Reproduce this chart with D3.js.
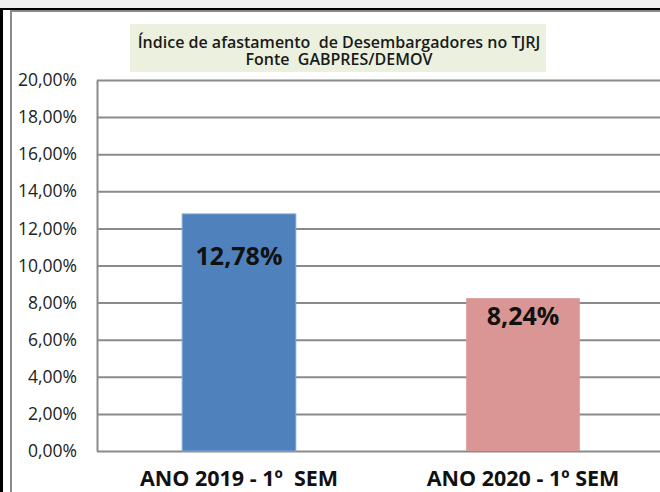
<!DOCTYPE html>
<html>
<head>
<meta charset="utf-8">
<script src="https://cdn.jsdelivr.net/npm/d3@7"></script>
<style>
  html, body { margin: 0; padding: 0; background: #fff; }
  svg { display: block; font-family: "Open Sans", sans-serif; }
</style>
</head>
<body>
<svg id="chart" width="660" height="492"></svg>
<script>
// chart data
const categories = ['ANO 2019 - 1º  SEM', 'ANO 2020 - 1º SEM'];
const values = [0.1278, 0.0824];
const yTicks = [0, 0.02, 0.04, 0.06, 0.08, 0.10, 0.12, 0.14, 0.16, 0.18, 0.20];
const titleLines = ['Índice de afastamento  de Desembargadores no TJRJ', 'Fonte  GABPRES/DEMOV'];
const barColors = ['#4F81BD', '#D99694'];

const W = 660, H = 492;
const svg = d3.select('#chart');

// window chrome around the chart
svg.append('rect').attr('x', 0).attr('y', 0).attr('width', W).attr('height', 8).attr('fill', '#f0f0f0');
svg.append('rect').attr('x', 0).attr('y', 8).attr('width', W).attr('height', 2).attr('fill', '#000');
svg.append('rect').attr('x', 0).attr('y', 8).attr('width', 3).attr('height', H).attr('fill', '#000');
// chart area border
svg.append('path')
    .attr('d', `M11,${H} V11 H${W}`)
    .attr('fill', 'none').attr('stroke', '#8a8a8a').attr('stroke-width', 2);

const locale = d3.formatLocale({ decimal: ',', thousands: '.', grouping: [3], currency: ['R$', ''] });
const pct = locale.format('.2%');

const plotLeft = 97, plotRight = 665;
const x = d3.scaleBand()
    .domain(categories)
    .range([plotLeft, plotRight])
    .paddingInner(0.6)
    .paddingOuter(0.3);
const y = d3.scaleLinear()
    .domain([0, 0.20])
    .range([451, 80]);

// gridlines + y axis
const yAxis = svg.append('g')
    .attr('transform', `translate(${plotLeft},0)`)
    .call(d3.axisLeft(y)
        .tickValues(yTicks)
        .tickFormat(pct)
        .tickSizeInner(-(plotRight - plotLeft))
        .tickSizeOuter(0)
        .tickPadding(20));
yAxis.select('.domain').attr('stroke', '#8a8a8a').attr('stroke-width', 2);
yAxis.selectAll('.tick line').attr('stroke', '#8a8a8a').attr('stroke-width', 2);
yAxis.selectAll('.tick text')
    .attr('fill', '#222')
    .attr('font-size', 17.5)
    .attr('font-family', '"Open Sans", sans-serif');

// bars
svg.append('g').selectAll('rect')
    .data(values)
    .enter()
    .append('rect')
    .attr('x', (d, i) => x(categories[i]))
    .attr('y', d => y(d))
    .attr('width', x.bandwidth())
    .attr('height', d => y(0) - y(d))
    .attr('fill', (d, i) => barColors[i])
    .attr('stroke', (d, i) => i === 0 ? '#7fa5d4' : 'none')
    .attr('stroke-width', 1);

// value labels (manually placed in the original, so offsets differ)
const labelDy = [51, 27];
svg.append('g').selectAll('text')
    .data(values)
    .enter()
    .append('text')
    .attr('x', (d, i) => x(categories[i]) + x.bandwidth() / 2)
    .attr('y', (d, i) => y(d) + labelDy[i])
    .attr('text-anchor', 'middle')
    .attr('font-size', 25)
    .attr('font-weight', 700)
    .attr('fill', '#111')
    .text(d => pct(d));

// category labels
svg.append('g').selectAll('text')
    .data(categories)
    .enter()
    .append('text')
    .attr('x', d => x(d) + x.bandwidth() / 2)
    .attr('y', 486)
    .attr('text-anchor', 'middle')
    .attr('font-size', 21.5)
    .attr('font-weight', 700)
    .attr('fill', '#111')
    .style('white-space', 'pre')
    .text(d => d);

// title box
svg.append('rect')
    .attr('x', 130).attr('y', 24)
    .attr('width', 416).attr('height', 48)
    .attr('fill', '#EBF1DE');
const title = svg.append('text')
    .attr('text-anchor', 'middle')
    .attr('font-size', 16)
    .attr('font-weight', 600)
    .attr('fill', '#1a1a1a')
    .style('white-space', 'pre');
title.selectAll('tspan')
    .data(titleLines)
    .enter()
    .append('tspan')
    .attr('x', 339)
    .attr('y', (d, i) => 48 + i * 17)
    .text(d => d);
</script>
</body>
</html>
